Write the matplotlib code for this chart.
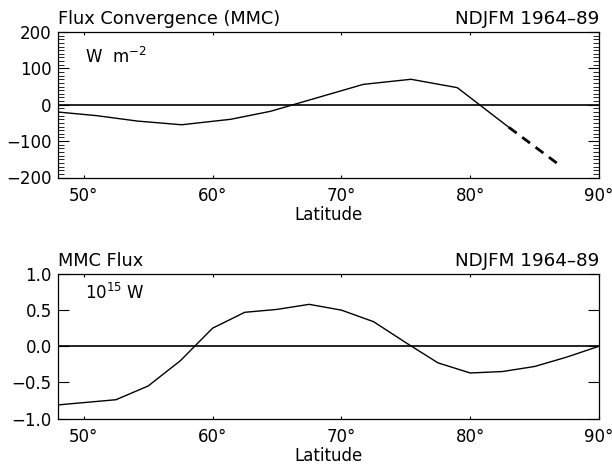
import matplotlib
matplotlib.use("Agg")
import matplotlib.pyplot as plt
from matplotlib.ticker import MultipleLocator, FuncFormatter

# Flux convergence by the mean meridional circulation (W m^-2)
conv_lat = [48.0, 51.0, 54.2, 57.6, 61.4, 64.5, 68.0, 71.7, 75.4, 79.0, 83.0]
conv_val = [-20, -30, -45, -55, -40, -18, 18, 56, 70, 47, -62]
# Uncertain extension near the pole
conv_ext_lat = [83.0, 86.9]
conv_ext_val = [-62, -165]

# Meridional energy flux by the mean meridional circulation (10^15 W)
flux_lat = [47.5, 50.0, 52.5, 55.0, 57.5, 60.0, 62.5, 65.0, 67.5, 70.0,
            72.5, 75.0, 77.5, 80.0, 82.5, 85.0, 87.5, 90.0]
flux_val = [-0.82, -0.78, -0.74, -0.55, -0.20, 0.25, 0.47, 0.51, 0.58, 0.50,
            0.34, 0.05, -0.23, -0.37, -0.35, -0.28, -0.15, 0.0]

lat_ticks = [50, 60, 70, 80, 90]
period = "NDJFM 1964\u201389"

plt.rcParams['font.family'] = ['DejaVu Sans']
plt.rcParams['font.size'] = 12
plt.rcParams['axes.unicode_minus'] = True

fig = plt.figure(figsize=(6.12, 4.67), dpi=100)
W, H = 612.0, 467.0
ax1 = fig.add_axes([58 / W, 1 - 177.5 / H, (599 - 58) / W, (177.5 - 32) / H])
ax2 = fig.add_axes([58 / W, 1 - 418.5 / H, (599 - 58) / W, (418.5 - 274) / H])

deg_fmt = FuncFormatter(lambda v, p: f"{int(round(v))}\u00b0")


def style_axes(ax):
    ax.set_xlim(48, 90)
    ax.set_xticks(lat_ticks)
    ax.xaxis.set_major_formatter(deg_fmt)
    ax.tick_params(axis='x', which='major', direction='in', length=2.5,
                   width=0.8, top=True, bottom=True, pad=7, labelsize=12)
    ax.tick_params(axis='y', which='major', direction='in', length=8,
                   width=0.8, left=True, right=True, pad=4.5, labelsize=12)
    ax.tick_params(axis='y', which='minor', direction='in', length=4,
                   width=0.6, left=True, right=True)
    for sp in ax.spines.values():
        sp.set_linewidth(0.9)
    ax.axhline(0, color='black', lw=1.2, zorder=1)
    ax.set_xlabel("Latitude", fontsize=12, labelpad=0.5)


# Upper panel: flux convergence
ax1.plot(conv_lat, conv_val, color='black', lw=1.0, zorder=3)
ax1.plot(conv_ext_lat, conv_ext_val, color='black', lw=2.0,
         dashes=(3.5, 2.5), zorder=3)
ax1.set_ylim(-200, 200)
ax1.set_yticks([-200, -100, 0, 100, 200])
ax1.yaxis.set_minor_locator(MultipleLocator(10))
style_axes(ax1)
ax1.text(0.05, 0.83, r"W  m$^{-2}$", transform=ax1.transAxes,
         fontsize=12, va='center', ha='left')
ax1.text(0.0, 1.025, "Flux Convergence (MMC)", transform=ax1.transAxes,
         ha='left', va='bottom', fontsize=12.8)
ax1.text(1.0, 1.025, period, transform=ax1.transAxes,
         ha='right', va='bottom', fontsize=13.2)

# Lower panel: meridional flux
ax2.plot(flux_lat, flux_val, color='black', lw=1.0, zorder=3)
ax2.set_ylim(-1.0, 1.0)
ax2.set_yticks([-1.0, -0.5, 0.0, 0.5, 1.0])
ax2.yaxis.set_major_formatter(FuncFormatter(
    lambda v, p: f"{v:.1f}".replace("-", "\u2212")))
style_axes(ax2)
ax2.text(0.05, 0.866, r"10$^{15}$ W", transform=ax2.transAxes,
         fontsize=12, va='center', ha='left')
ax2.text(0.0, 1.025, "MMC Flux", transform=ax2.transAxes,
         ha='left', va='bottom', fontsize=12.8)
ax2.text(1.0, 1.025, period, transform=ax2.transAxes,
         ha='right', va='bottom', fontsize=13.2)

fig.savefig("out.png", dpi=100)
